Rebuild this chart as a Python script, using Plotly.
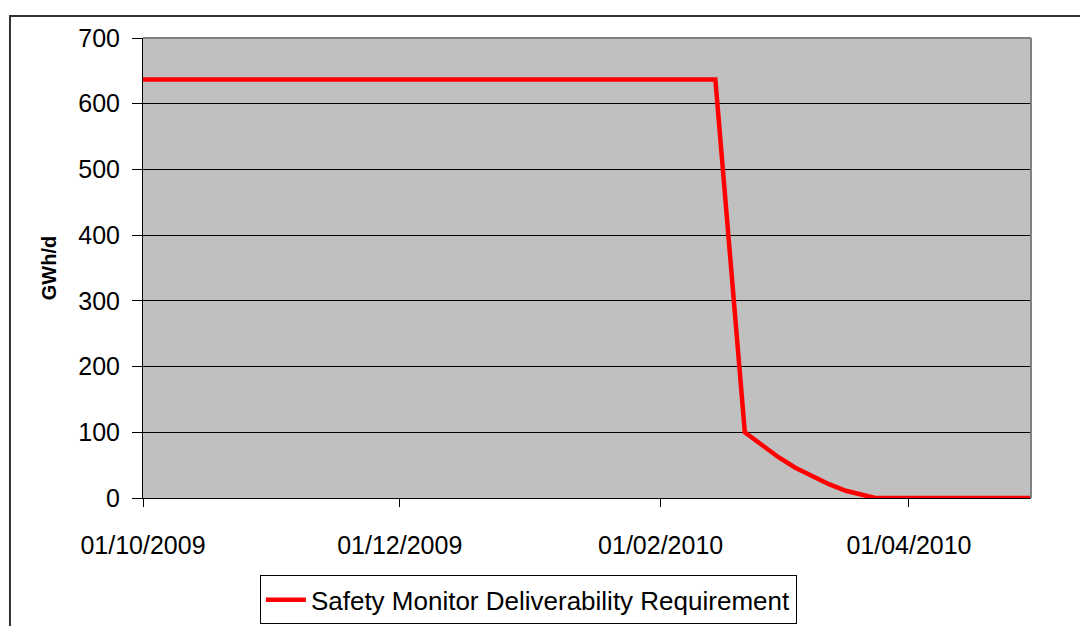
import plotly.graph_objects as go

dates = ["2009-10-01", "2010-02-14", "2010-02-21", "2010-02-25", "2010-03-01",
         "2010-03-05", "2010-03-09", "2010-03-13", "2010-03-17", "2010-03-21",
         "2010-03-24", "2010-04-30"]
requirement = [637, 637, 100, 81, 62, 46, 33, 21, 11, 4, 0, 0]

tick_dates = ["2009-10-01", "2009-12-01", "2010-02-01", "2010-04-01"]
tick_labels = ["01/10/2009", "01/12/2009", "01/02/2010", "01/04/2010"]
y_ticks = [0, 100, 200, 300, 400, 500, 600, 700]

FONT = "Arial, Liberation Sans, sans-serif"

fig = go.Figure()
fig.add_trace(go.Scatter(
    x=dates, y=requirement, mode="lines",
    name="Safety Monitor Deliverability Requirement",
    line=dict(color="#FF0000", width=4.5),
))

fig.update_layout(
    width=1088, height=626,
    margin=dict(l=135, r=65, t=30, b=136, autoexpand=False),
    paper_bgcolor="white",
    plot_bgcolor="#C0C0C0",
    font=dict(family=FONT, size=25, color="black"),
    showlegend=True,
    legend=dict(
        orientation="h", x=0.434, xanchor="center", y=-0.168, yanchor="top",
        bordercolor="black", borderwidth=1, bgcolor="white",
        itemwidth=40,
        font=dict(family=FONT, size=26),
    ),
    xaxis=dict(
        type="date",
        range=["2009-10-01", "2010-04-30"],
        tickvals=tick_dates, ticktext=tick_labels,
        showgrid=False, zeroline=False,
        showline=True, linecolor="black", linewidth=1,
        ticks="outside", ticklen=8, tickcolor="black",
        ticklabelstandoff=17,
        tickfont=dict(family=FONT, size=25),
    ),
    yaxis=dict(
        range=[0, 700], tickvals=y_ticks,
        showgrid=True, gridcolor="black", gridwidth=1,
        zeroline=False,
        showline=True, linecolor="black", linewidth=1,
        ticks="outside", ticklen=10, tickcolor="black",
        ticklabelstandoff=7,
        tickfont=dict(family=FONT, size=25),
        title=dict(text="<b>GWh/d</b>", font=dict(family=FONT, size=20), standoff=16),
    ),
    shapes=[
        dict(type="line", xref="paper", yref="paper", x0=0, x1=1, y0=1, y1=1,
             line=dict(color="#808080", width=2)),
        dict(type="line", xref="paper", yref="paper", x0=1, x1=1, y0=0, y1=1,
             line=dict(color="#808080", width=2)),
        dict(type="rect", xref="paper", yref="paper",
             x0=-0.1498, x1=1.2, y0=-0.4, y1=1.0478,
             line=dict(color="#333333", width=2), fillcolor="rgba(0,0,0,0)", layer="below"),
    ],
)

fig.write_html("out.html")
